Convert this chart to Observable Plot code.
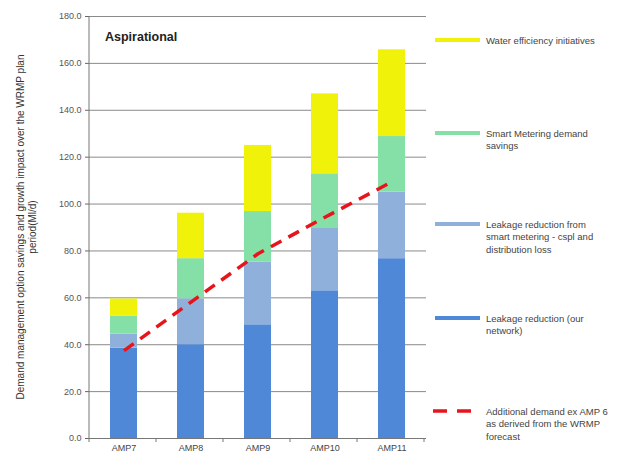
<!DOCTYPE html>
<html><head><meta charset="utf-8">
<script src="https://cdn.jsdelivr.net/npm/d3@7"></script>
<script src="https://cdn.jsdelivr.net/npm/@observablehq/plot@0.6"></script>
<style>
body{margin:0;background:#fff;font-family:"Liberation Sans",Arial,sans-serif;}
#chart{position:relative;width:633px;height:458px;}
</style></head>
<body><div id="chart"></div>
<script>
const periods = ["AMP7","AMP8","AMP9","AMP10","AMP11"];
const leakageNetwork = [38.5, 40.0, 48.5, 63.0, 76.7];
const leakageSmart = [6.0, 19.6, 26.7, 26.9, 28.4];
const smartMetering = [7.6, 17.1, 21.6, 23.0, 23.7];
const waterEfficiency = [7.4, 19.4, 28.2, 34.1, 37.0];
const additionalDemand = [37.5, 58.2, 78.8, 94.4, 109.5];
const yTicks = [0,20,40,60,80,100,120,140,160,180];

const seriesNames = ["Leakage reduction (our network)","Leakage reduction from smart metering - cspl and distribution loss","Smart Metering demand savings","Water efficiency initiatives"];
const seriesColors = ["#4f88d6","#8fb0da","#84e0a6","#f0f20a"];
const seriesValues = [leakageNetwork, leakageSmart, smartMetering, waterEfficiency];

const rows = [];
seriesNames.forEach((s,i)=>periods.forEach((p,j)=>rows.push({period:p, series:s, value:seriesValues[i][j]})));
const lineRows = periods.map((p,j)=>({period:p, value:additionalDemand[j]}));

const W=633,H=458,ML=89,MR=207,MT=16,MB=20;
const plot = Plot.plot({
  width:W, height:H, marginLeft:ML, marginRight:MR, marginTop:MT, marginBottom:MB,
  style:{fontFamily:"'Liberation Sans',Arial,sans-serif", background:"#fff"},
  x:{domain:periods, paddingInner:0.6, paddingOuter:0.3, label:null, axis:null},
  y:{domain:[0,180], label:null, axis:null},
  color:{domain:seriesNames, range:seriesColors},
  marks:[
    Plot.ruleY(yTicks.filter(d=>d>0), {stroke:"#8a8a8a", strokeWidth:1}),
    Plot.axisY({ticks:yTicks, tickFormat:d=>d.toFixed(1), tickSize:4, tickPadding:4, fontSize:9, color:"#555", stroke:"#666", label:null}),
    Plot.barY(rows, Plot.stackY({x:"period", y:"value", fill:"series", order:seriesNames})),
    Plot.line(lineRows, {x:"period", y:"value", stroke:"#e8141b", strokeWidth:3.5, strokeDasharray:"12,8", strokeLinecap:"butt"}),
    Plot.ruleY([0], {stroke:"#777", strokeWidth:1}),
    Plot.axisX({tickSize:0, tickPadding:6, fontSize:9, color:"#444"})
  ]
});
document.getElementById("chart").appendChild(plot);

const svg = d3.select(plot);
const xs = plot.scale("x");
const step = xs.step;
const x0 = ML;
// y axis line
svg.append("line").attr("x1",ML).attr("x2",ML).attr("y1",MT).attr("y2",H-MB).attr("stroke","#777");
// x ticks at band boundaries
for(let i=0;i<=periods.length;i++){
  const xx = x0 + i*step;
  svg.append("line").attr("x1",xx).attr("x2",xx).attr("y1",H-MB).attr("y2",H-MB+4).attr("stroke","#777");
}
// title
svg.append("text").attr("x",105).attr("y",41).attr("text-anchor","start").attr("font-size",12.5).attr("font-weight","bold").attr("fill","#222").text("Aspirational");
// y title
const yt = svg.append("text").attr("transform","translate(24,227) rotate(-90)").attr("text-anchor","middle").attr("font-size",10).attr("fill","#333");
yt.append("tspan").attr("x",0).attr("dy",0).text("Demand management option savings and growth impact over the WRMP plan");
yt.append("tspan").attr("x",0).attr("dy",12).text("period(Ml/d)");

// legend
const legend = [
  {color:seriesColors[3], y:40, lines:["Water efficiency initiatives"]},
  {color:seriesColors[2], y:133, lines:["Smart Metering demand","savings"]},
  {color:seriesColors[1], y:224, lines:["Leakage reduction from","smart metering - cspl and","distribution loss"]},
  {color:seriesColors[0], y:318, lines:["Leakage reduction (our","network)"]},
  {color:"#e8141b", y:411, dashed:true, lines:["Additional demand ex AMP 6","as derived from the WRMP","forecast"]}
];
legend.forEach(l=>{
  if(l.dashed){
    svg.append("line").attr("x1",433).attr("x2",473).attr("y1",l.y).attr("y2",l.y).attr("stroke",l.color).attr("stroke-width",3.5).attr("stroke-dasharray","14,10");
  } else {
    svg.append("line").attr("x1",435).attr("x2",480).attr("y1",l.y).attr("y2",l.y).attr("stroke",l.color).attr("stroke-width",4);
  }
  l.lines.forEach((t,i)=>{
    svg.append("text").attr("x",486).attr("y",l.y+3.5+i*12.5).attr("text-anchor","start").attr("font-size",9.5).attr("fill","#444").text(t);
  });
});
</script></body></html>
